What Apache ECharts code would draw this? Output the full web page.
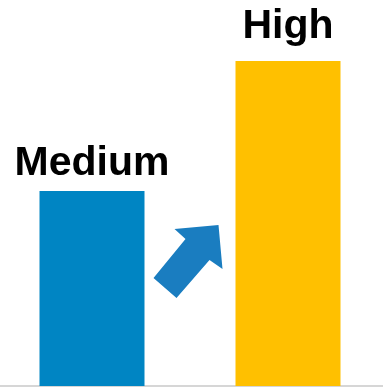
<!DOCTYPE html>
<html>
<head>
<meta charset="utf-8">
<script src="https://cdn.jsdelivr.net/npm/echarts@6/dist/echarts.min.js"></script>
<style>
  html, body { margin: 0; padding: 0; background: #fff; overflow: hidden; }
  /* chart a bit wider than the window so the bars sit where the original had them */
  #chart { width: 392px; height: 387px; margin-left: -6.5px; }
</style>
</head>
<body>
<div id="chart"></div>
<script>
// data
var categories = ['Medium', 'High'];
var values = [60, 100];
var barColors = ['#0085C3', '#FFC000'];
var labelGaps = [7, 14];

var myChart = echarts.init(document.getElementById('chart'));

var option = {
  animation: false,
  grid: { left: 0, right: 0, top: 61, bottom: 1 },
  xAxis: {
    type: 'category',
    data: categories,
    axisLine: { lineStyle: { color: '#c8c8c8', width: 1.5 } },
    axisTick: { show: false },
    axisLabel: { show: false }
  },
  yAxis: {
    type: 'value',
    min: 0,
    max: 100,
    show: false
  },
  series: [{
    type: 'bar',
    barWidth: 105,
    data: values.map(function (v, i) {
      return {
        value: v,
        itemStyle: { color: barColors[i] },
        label: { distance: labelGaps[i] }
      };
    }),
    label: {
      show: true,
      position: 'top',
      formatter: function (p) { return categories[p.dataIndex]; },
      color: '#000',
      fontFamily: 'Liberation Sans, Arial, sans-serif',
      fontWeight: 'bold',
      fontSize: 41
    }
  }],
  // the arrow between the bars (page coords shifted by the chart's -6.5px offset)
  graphic: [{
    type: 'polygon',
    x: 6.5,
    shape: {
      points: [[218, 225], [174, 229], [185, 239], [153, 278], [176, 298], [209, 260], [222, 269]]
    },
    style: { fill: '#1A7DC0' }
  }]
};

myChart.setOption(option);
</script>
</body>
</html>
